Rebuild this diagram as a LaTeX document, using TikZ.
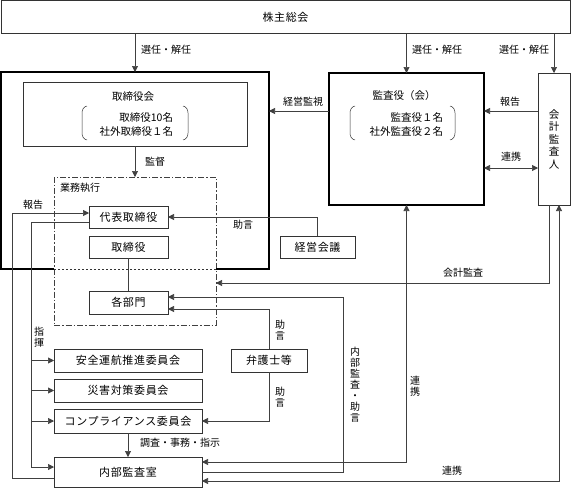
\documentclass[tikz,border=0pt]{standalone}
\usepackage{fontspec}
\setmainfont{Noto Sans CJK JP}
\usetikzlibrary{arrows.meta}
\begin{document}
\begin{tikzpicture}[x=1pt,y=-1pt,
  every node/.style={inner sep=0pt, outer sep=0pt},
  boxt/.style={draw=black!80, line width=0.6pt, fill=white, font=\fontsize{11}{12}\selectfont\addfontfeature{LetterSpace=6}},
  thickbox/.style={draw=black, line width=1.4pt},
  conn/.style={draw=black!75, line width=0.6pt},
  arr/.style={conn, -{Triangle[length=6pt,width=6pt]}},
  arrb/.style={conn, {Triangle[length=6pt,width=6pt]}-{Triangle[length=6pt,width=6pt]}},
  lbl/.style={font=\fontsize{10}{11}\selectfont},
  vlbl/.style={font=\fontsize{10}{11}\selectfont, align=center},
  txt/.style={font=\fontsize{10.5}{14}\selectfont},
  paren/.style={draw=black!80, line width=0.5pt}]
\useasboundingbox (0,0) rectangle (572,488);

% top box
\node[boxt, minimum width=569pt, minimum height=33pt] (sh) at (285.5,17) {株主総会};

% execution (dash-dot) area
\node[draw=black!75, line width=0.6pt, dash pattern=on 6pt off 2pt on 1.5pt off 2pt,
      minimum width=162pt, minimum height=148pt] (gyomu) at (135,251) {};
\node[lbl, anchor=west] (gyomut) at (60,188) {業務執行};

% board area (thick, bottom partly dotted)
\node[minimum width=268pt, minimum height=197pt] (big) at (135,170.5) {};
\draw[line width=1.4pt, line join=miter] (gyomu.west |- big.south) -- (big.south west) -- (big.north west) -- (big.north east) -- (big.south east) -- (gyomu.east |- big.south);
\draw[draw=black!80, line width=0.9pt, dash pattern=on 1.5pt off 2.5pt] (gyomu.west |- big.south) -- (gyomu.east |- big.south);

% board of directors
\node[boxt, minimum width=224pt, minimum height=64pt] (tkai) at (135,114) {};
\node[txt] (tkait) at (133,97) {取締役会};
\node[txt, align=right, anchor=east] (tkain) at (173,124) {取締役10名\\社外取締役１名};
\draw[paren] (87,106) to[out=190,in=90] (82,113) -- (82,133) to[out=-90,in=170] (87,140);
\draw[paren] (183,106) to[out=-10,in=90] (188,113) -- (188,133) to[out=-90,in=10] (183,140);

% auditors
\node[thickbox, minimum width=155pt, minimum height=132pt] (kansa) at (406.5,139) {};
\node[txt] (kansat) at (404,96) {監査役（会）};
\node[txt, align=right, anchor=east] (kansan) at (443,124) {監査役１名\\社外監査役２名};
\draw[paren] (355,106) to[out=190,in=90] (350,113) -- (350,133) to[out=-90,in=170] (355,140);
\draw[paren] (450,106) to[out=-10,in=90] (455,113) -- (455,133) to[out=-90,in=10] (450,140);

% accounting auditor
\node[boxt, minimum width=32pt, minimum height=132pt, align=center, font=\fontsize{10.5}{12.5}\selectfont] (kaikei) at (554,139) {会\\計\\監\\査\\人};

% inner boxes
\node[boxt, minimum width=79pt, minimum height=22pt] (daihyo) at (128.5,217) {代表取締役};
\node[boxt, minimum width=79pt, minimum height=22pt] (torishimari) at (128.5,247) {取締役};
\node[boxt, minimum width=79pt, minimum height=23pt] (bumon) at (128.5,302.5) {各部門};
\node[boxt, minimum width=75pt, minimum height=22pt] (keiei) at (317.5,247) {経営会議};
\node[boxt, minimum width=76pt, minimum height=23pt] (bengo) at (269,360.5) {弁護士等};
\node[boxt, minimum width=148pt, minimum height=23pt] (anzen) at (128,360.5) {安全運航推進委員会};
\node[boxt, minimum width=148pt, minimum height=23pt] (saigai) at (128,390.5) {災害対策委員会};
\node[boxt, minimum width=148pt, minimum height=24pt] (comp) at (128,421) {コンプライアンス委員会};
\node[boxt, minimum width=148pt, minimum height=30pt] (naibu) at (128,472) {内部監査室};

% shareholders -> elections
\draw[arr] (sh.south -| big.north) -- (big.north);
\node[lbl] (l1) at (166,50) {選任・解任};
\draw[arr] (sh.south -| kansa.north) -- (kansa.north);
\node[lbl] (l2) at (437,50) {選任・解任};
\draw[arr] (sh.south -| kaikei.north) -- (kaikei.north);
\node[lbl] (l3) at (524,50) {選任・解任};

% auditor relations
\draw[arr] ([yshift=28pt]kansa.west) -- ([yshift=28pt]kansa.west -| big.east);
\node[lbl] (l4) at (303,102) {経営監視};
\draw[arr] ([yshift=28pt]kaikei.west) -- ([yshift=28pt]kaikei.west -| kansa.east);
\node[lbl] (l5) at (510,102) {報告};
\draw[arrb] ([yshift=-29pt]kansa.east) -- ([yshift=-29pt]kansa.east -| kaikei.west);
\node[lbl] (l6) at (511,157) {連携};

% supervision
\draw[arr] (tkai.south -| big.north) -- (gyomu.north -| big.north);
\node[lbl] (l7) at (155,162) {監督};

% management meeting advice
\draw[arr] (keiei.north) |- (daihyo.east);
\node[lbl] (l8) at (243,225) {助言};

% directors - departments
\draw[conn] (torishimari.south) -- (bumon.north);

% accounting audit
\coordinate (ka) at (216,283);
\draw[arr] ([xshift=-5pt]kaikei.south) |- (ka);
\node[lbl] (l9) at (463,273) {会計監査};

% internal audit / advice
\coordinate (ia) at (343,297);
\draw[arr] (naibu.east) -| (ia) -- (ia -| bumon.east);
\node[vlbl] (l10) at (355,385) {内\\部\\監\\査\\・\\助\\言};

% lawyers advice
\draw[arr] (bengo.north) |- ([yshift=-6.5pt]bumon.east);
\node[vlbl] (l11) at (280,330) {助\\言};
\draw[arr] (bengo.south) |- (comp.east);
\node[vlbl] (l12) at (280,397) {助\\言};

% compliance -> internal audit
\draw[arr] (comp.south) -- (naibu.north);
\node[lbl] (l13) at (180,443) {調査・事務・指示};

% cooperation lines
\draw[arrb] ([yshift=10pt]naibu.east) -| (kansa.south);
\node[vlbl] (l14) at (415,386) {連\\携};
\draw[arrb] ([yshift=-9pt]naibu.east) -| ([xshift=5pt]kaikei.south);
\node[lbl] (l15) at (452,471) {連携};

% report to representative director
\coordinate (r1) at (12,213);
\draw[arr] ([yshift=-6pt]naibu.west) -| (r1) -- (r1 -| daihyo.west);
\node[lbl] (l16) at (33,205) {報告};

% command lines
\coordinate (s1) at (31,222);
\draw[arr] ([yshift=-5pt]daihyo.west) -- (s1) |- ([yshift=5pt]naibu.west);
\draw[arr] (s1 |- anzen.west) -- (anzen.west);
\draw[arr] (s1 |- saigai.west) -- (saigai.west);
\draw[arr] (s1 |- comp.west) -- (comp.west);
\node[vlbl] (l17) at (39,337) {指\\揮};
\end{tikzpicture}
\end{document}
